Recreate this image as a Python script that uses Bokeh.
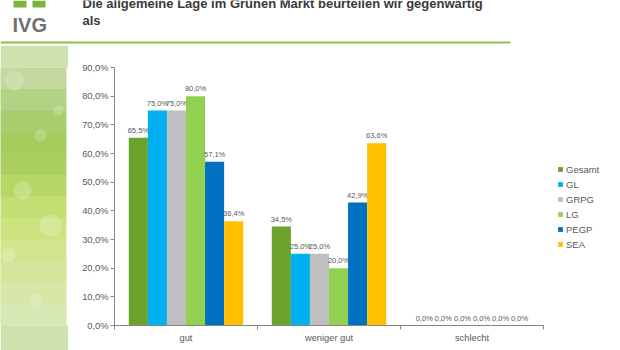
from bokeh.plotting import figure
from bokeh.layouts import column, row
from bokeh.models import (Range1d, FixedTicker, LinearAxis, Legend, LegendItem,
                          ColumnDataSource)
from bokeh.core.properties import value
from bokeh.embed import file_html
from bokeh.resources import INLINE

# ---------------- data ----------------
title_line1 = "Die allgemeine Lage im Grünen Markt beurteilen wir gegenwärtig"
title_line2 = "als"
logo_text = "IVG"
categories = ["gut", "weniger gut", "schlecht"]
series = ["Gesamt", "GL", "GRPG", "LG", "PEGP", "SEA"]
gesamt = [65.5, 34.5, 0.0]
gl = [75.0, 25.0, 0.0]
grpg = [75.0, 25.0, 0.0]
lg = [80.0, 20.0, 0.0]
pegp = [57.1, 42.9, 0.0]
sea = [36.4, 63.6, 0.0]
y_ticks = [0, 10, 20, 30, 40, 50, 60, 70, 80, 90]
y_tick_labels = ["0,0%", "10,0%", "20,0%", "30,0%", "40,0%", "50,0%",
                 "60,0%", "70,0%", "80,0%", "90,0%"]

series_values = [gesamt, gl, grpg, lg, pegp, sea]
colors = ["#6aa22b", "#00b0f0", "#bfbfbf", "#92d050", "#0070c0", "#ffc000"]
FONT = "Liberation Sans"
TXT = "#595959"
BT, BB = 22, 25  # shared top/bottom borders of the lower row


def bare(fig):
    fig.axis.visible = False
    fig.grid.visible = False
    return fig


# ---------------- header ----------------
header = bare(figure(width=620, height=45, x_range=Range1d(0, 620), y_range=Range1d(45, 0),
                     output_backend="svg", toolbar_location=None, min_border=0,
                     outline_line_color=None))
for txt, yy in [(title_line1, 8), (title_line2, 25)]:
    header.text(x=[82], y=[yy - 0.35 * 13], text=[txt], text_font=value(FONT),
                text_font_style="bold", text_font_size="13px", text_color="#3a3a3a",
                text_baseline="middle")
header.text(x=[12], y=[31 - 0.35 * 20], text=[logo_text], text_font=value(FONT),
            text_font_style="bold", text_font_size="20px", text_color="#707070",
            text_baseline="middle")
header.quad(left=[13, 32], right=[26, 45], top=[0, 0], bottom=[7, 7],
            fill_color="#7ab536", line_color=None)
header.segment(x0=[0], y0=[42], x1=[510], y1=[42], line_color="#8cbf4a", line_width=2)

# ---------------- left decorative strip ----------------
strip = bare(figure(width=68, height=305, x_range=Range1d(0, 68), y_range=Range1d(325, 67),
                    output_backend="svg", toolbar_location=None,
                    min_border_left=0, min_border_right=0, min_border_top=BT,
                    min_border_bottom=BB, outline_line_color=None,
                    border_fill_color="#cfe1ac", background_fill_color="#d3e5a0"))
bands_c = ["#c2d89c", "#b4d285", "#a8cd6c", "#a4cc5e", "#aacf5f", "#b6d766",
           "#c3de72", "#cde37f", "#d2e58e", "#d4e69c", "#d6e7a8", "#d8e8b2"]
band_h = (325 - 67) / len(bands_c)
strip.quad(left=0, right=66, top=[67 + k * band_h for k in range(len(bands_c))],
           bottom=[67 + (k + 1) * band_h + 0.5 for k in range(len(bands_c))],
           fill_color=bands_c, line_color=None)
strip.scatter(x=[14, 55, 40, 22, 50, 8, 35, 58], y=[80, 60, 135, 190, 225, 255, 300, 110],
              size=[20, 14, 12, 18, 22, 14, 14, 10], fill_color="white", fill_alpha=0.2,
              line_color=None)
strip.quad(left=66, right=68, top=67, bottom=325, fill_color="white", line_color=None)

# ---------------- chart ----------------
p = figure(width=489, height=305, x_range=Range1d(0, 3), y_range=Range1d(0, 90),
           output_backend="svg", toolbar_location=None,
           min_border_left=46, min_border_right=14, min_border_top=BT, min_border_bottom=BB,
           outline_line_color=None, x_axis_type=None, y_axis_type=None)

yaxis = LinearAxis(ticker=FixedTicker(ticks=y_ticks),
                   major_label_overrides={t: l for t, l in zip(y_ticks, y_tick_labels)},
                   major_label_text_font=FONT, major_label_text_font_size="9.3px",
                   major_label_text_color=TXT, axis_line_color="#868686",
                   major_tick_line_color="#868686", major_tick_in=0, major_tick_out=4,
                   minor_tick_line_color=None, major_label_standoff=2)
p.add_layout(yaxis, "left")

cat_pos = [i + 0.5 for i in range(len(categories))]
xaxis = LinearAxis(ticker=FixedTicker(ticks=cat_pos, minor_ticks=[0, 1, 2, 3]),
                   major_label_overrides={c: l for c, l in zip(cat_pos, categories)},
                   major_label_text_font=FONT, major_label_text_font_size="9.3px",
                   major_label_text_color=TXT, axis_line_color="#868686",
                   major_tick_line_color=None, minor_tick_line_color="#868686",
                   minor_tick_in=0, minor_tick_out=4, major_label_standoff=1)
p.add_layout(xaxis, "below")

p.ygrid.ticker = FixedTicker(ticks=y_ticks)
p.ygrid.grid_line_color = "#a6a6a6"
p.xgrid.visible = False

n = len(series)
group_w = 0.8
bw = group_w / n
for i, (name, vals, col) in enumerate(zip(series, series_values, colors)):
    off = -group_w / 2 + bw * (i + 0.5)
    xs = [c + off for c in cat_pos]
    labels = [("%.1f" % v).replace(".", ",") + "%" for v in vals]
    src = ColumnDataSource(dict(x=xs, top=vals, lab=labels))
    p.vbar(x="x", top="top", width=bw, bottom=0, source=src,
           fill_color=col, line_color=None)
    p.text(x="x", y="top", text="lab", source=src, text_font=value(FONT),
           text_font_size="7.5px", text_color=TXT, text_align="center",
           text_baseline="bottom", y_offset=-3)

# ---------------- legend panel ----------------
leg = bare(figure(width=620 - 68 - 489, height=305, x_range=Range1d(0, 1), y_range=Range1d(0, 1),
                  output_backend="svg", toolbar_location=None,
                  min_border_left=0, min_border_right=0, min_border_top=BT,
                  min_border_bottom=BB, outline_line_color=None))
items = []
for name, col in zip(series, colors):
    # swatch renderer kept outside the visible range; only its legend entry shows
    r = leg.quad(left=[5], right=[6], bottom=[5], top=[6], fill_color=col, line_color=None)
    items.append(LegendItem(label=name, renderers=[r]))
legend = Legend(items=items, location=(0, 325 - 250), glyph_width=6, glyph_height=6,
                label_text_font=FONT, label_text_font_size="9.5px",
                label_text_color=TXT, spacing=3, padding=0, margin=0,
                border_line_color=None, background_fill_alpha=0,
                label_standoff=3, label_height=12)
leg.add_layout(legend, "center")

layout = column(header, row(strip, p, leg, spacing=0), spacing=0)
open("out.html", "w").write(file_html(layout, INLINE))
